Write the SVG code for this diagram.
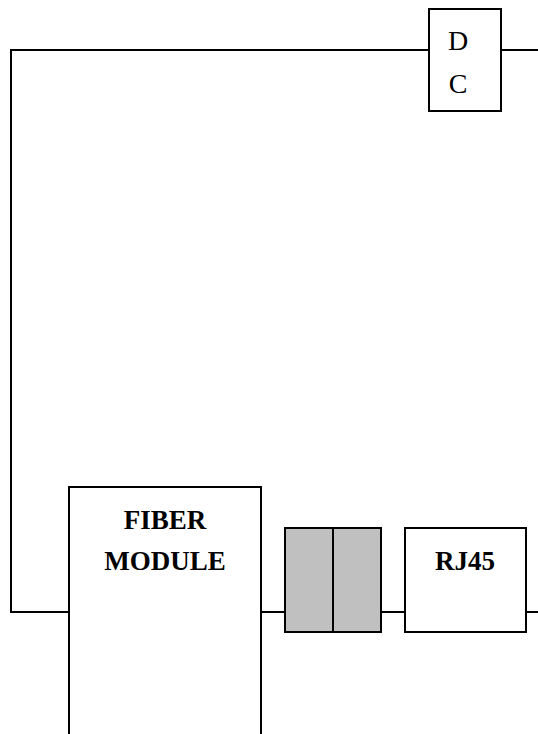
<svg xmlns="http://www.w3.org/2000/svg" width="538" height="734" viewBox="0 0 538 734">
<style>
.box{fill:#fff;stroke:#000;stroke-width:2}
.gray{fill:#c0c0c0;stroke:#000;stroke-width:2}
.wire{fill:none;stroke:#000;stroke-width:2}
.lbl{font-family:"Liberation Serif",serif;font-size:27px;text-anchor:middle;fill:#000}
.big{font-size:28px}
.b{font-weight:bold}
</style>
<rect width="538" height="734" fill="#fff"/>
<g id="connectors">
<polyline class="wire" points="429,50 11,50 11,612 69,612"/>
<line class="wire" x1="501" y1="50" x2="538" y2="50"/>
<line class="wire" x1="261" y1="612" x2="285" y2="612"/>
<line class="wire" x1="381" y1="612" x2="405" y2="612"/>
<line class="wire" x1="526" y1="612" x2="538" y2="612"/>
</g>
<g id="dc">
<rect class="box" x="429" y="9" width="72" height="102"/>
<text class="lbl big" x="458" y="50">D</text>
<text class="lbl big" x="458" y="93">C</text>
</g>
<g id="fiber-module">
<path class="box" d="M69,736 V487 H261 V736"/>
<text class="lbl b" x="165" y="529">FIBER</text>
<text class="lbl b" x="165" y="570">MODULE</text>
</g>
<g id="connector-block">
<rect class="gray" x="285" y="528" width="96" height="104"/>
<line class="wire" x1="333" y1="528" x2="333" y2="632"/>
</g>
<g id="rj45">
<rect class="box" x="405" y="528" width="121" height="104"/>
<text class="lbl b" x="465" y="570">RJ45</text>
</g>
</svg>
